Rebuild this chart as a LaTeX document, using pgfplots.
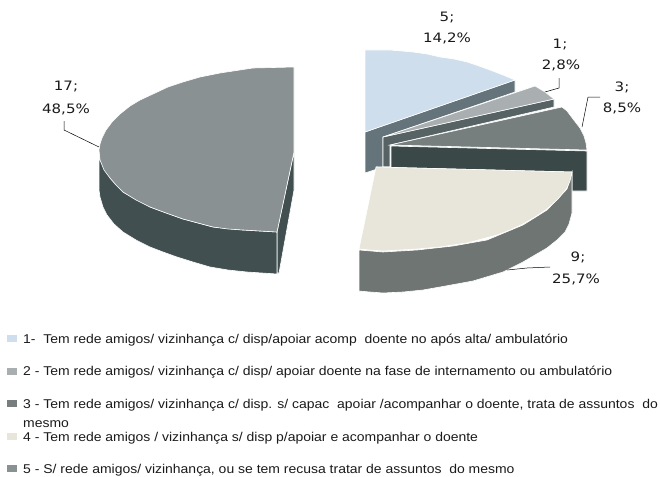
\documentclass[border=0pt]{standalone}
\usepackage{pgfplots}
\pgfplotsset{compat=1.18}
\usepackage{fontspec}
\setmainfont{Liberation Sans}
\newfontfamily\legfont[FakeStretch=1.095]{Liberation Sans}
\newfontfamily\labelfont[FakeStretch=1.16]{DejaVu Sans}
\definecolor{cA}{HTML}{CFDEEC}
\definecolor{cAs}{HTML}{64747A}
\definecolor{cB}{HTML}{A9AFB0}
\definecolor{cBs}{HTML}{566263}
\definecolor{cC}{HTML}{767E7E}
\definecolor{cCs}{HTML}{3B4848}
\definecolor{cD}{HTML}{E8E6DB}
\definecolor{cDs}{HTML}{6E7573}
\definecolor{cE}{HTML}{8A9193}
\definecolor{cEs}{HTML}{424F50}
\definecolor{txt}{HTML}{1A1A1A}
\newcommand{\dl}[3]{\node[font=\labelfont\fontsize{13}{15}\selectfont,text=txt,anchor=center,inner sep=0pt] at (axis cs:#1,#2) {#3};}
\newcommand{\lgt}[2]{\node[font=\legfont\fontsize{12.8}{15}\selectfont,text=txt,anchor=base west,inner sep=0pt] at (axis cs:23,#1) {#2};}
\begin{document}
\begin{tikzpicture}
\begin{axis}[scale only axis,width=660bp,height=476bp,xmin=0,xmax=660,ymin=0,ymax=476,y dir=reverse,axis lines=none,clip=false,
  every axis plot/.append style={line width=0.6pt}]
\addplot[draw=none] coordinates {(0,0)(660,0)(660,476)(0,476)};
% slice 5
\addplot[fill=cAs,draw=white] coordinates {(365,132)(515,80)(515,92)(383,137)(383,167)(365,173)} -- cycle;
\addplot[fill=cA,draw=white] coordinates {(365,50)(390,50)(413,52)(427,54)(440,57)(454,59)(467,62)(479,66)(490,70)(503,75)(515,80)(365,132)} -- cycle;
% slice 1
\addplot[fill=cBs,draw=white] coordinates {(383,137)(554,99)(554,107)(390,145)(390,167)(383,167)} -- cycle;
\addplot[fill=cB,draw=white] coordinates {(383,137)(535,86)(545,92)(554,99)} -- cycle;
% slice 3
\addplot[fill=cCs,draw=white] coordinates {(391,146)(587,151)(587,191)(572,191)(572,172)(376,167)(391,167)} -- cycle;
\addplot[fill=cC,draw=white] coordinates {(390,145)(562,107)(567,111)(573,119)(580,128)(584,136)(586,143)(587,150)} -- cycle;
% slice 4
\addplot[fill=cDs,draw=white] coordinates {(359,250)(383,252)(417,250)(453,246)(487,240)(523,225)(547,210)(567,189)(572,172)(572,213)(569,224)(565,232)(557,240)(547,248)(535,255)(523,262)(503,272)(473,281)(440,287)(423,290)(403,292)(383,293)(370,292)(359,291)} -- cycle;
\addplot[fill=cD,draw=white] coordinates {(376,167)(572,172)(570,181)(567,188)(558,199)(547,209)(535,217)(523,224)(510,230)(497,235)(482,239)(467,243)(453,245)(440,247)(417,249)(400,250)(383,251)(370,250)(359,249)} -- cycle;
% slice 2
\addplot[fill=cEs,draw=white] coordinates {(277,232)(294,152)(294,190)(279,273)(277,273)} -- cycle;
\addplot[fill=cEs,draw=white] coordinates {(99,150)(100,160)(110,178)(123,192)(150,207)(183,219)(213,227)(243,230)(277,232)(277,274)(247,272)(228,270)(210,267)(193,262)(177,257)(163,252)(150,247)(136,240)(123,232)(114,224)(107,215)(103,207)(100,197)(99,190)} -- cycle;
\addplot[fill=cE,draw=white] coordinates {(294,67)(253,68)(220,73)(200,77)(183,82)(168,87)(153,94)(140,100)(130,106)(120,114)(112,122)(106,130)(102,138)(100,144)(99,150)(100,160)(104,170)(110,178)(116,185)(123,192)(136,200)(150,207)(166,213)(183,219)(198,223)(213,227)(228,229)(243,230)(260,231)(277,232)(294,152)} -- cycle;
% leader lines
\addplot[black,line width=0.5pt] coordinates {(545,92)(559,88)(559,78)};
\addplot[black,line width=0.5pt] coordinates {(582,127)(588,97)(600,97)};
\addplot[black,line width=0.5pt] coordinates {(507,270)(527,268)(550,267)};
\addplot[black,line width=0.5pt] coordinates {(64,121)(64,130)(99,147)};
% data labels
\dl{447}{18}{5;}\dl{447}{38}{14,2\%}
\dl{560}{45}{1;}\dl{561}{65}{2,8\%}
\dl{622}{87}{3;}\dl{622}{108}{8,5\%}
\dl{578}{257}{9;}\dl{576}{279}{25,7\%}
\dl{66}{87}{17;}\dl{66}{109}{48,5\%}
% legend keys
\addplot[fill=cA,draw=none] coordinates {(7,335)(17,335)(17,342)(7,342)} -- cycle;
\addplot[fill=cB,draw=none] coordinates {(7,368)(17,368)(17,375)(7,375)} -- cycle;
\addplot[fill=cC,draw=none] coordinates {(7,400)(17,400)(17,407)(7,407)} -- cycle;
\addplot[fill=cD,draw=none] coordinates {(7,433)(17,433)(17,440)(7,440)} -- cycle;
\addplot[fill=cE,draw=none] coordinates {(7,465)(17,465)(17,472)(7,472)} -- cycle;
% legend text
\lgt{343}{1-\ \ Tem rede amigos/ vizinhança c/ disp/apoiar acomp\ \ doente no após alta/ ambulatório}
\lgt{375}{2 - Tem rede amigos/ vizinhança c/ disp/ apoiar doente na fase de internamento ou ambulatório}
\lgt{408}{3 - Tem rede amigos/ vizinhança c/ disp. s/ capac\ \ apoiar /acompanhar o doente, trata de assuntos\ \ do}
\lgt{427}{mesmo}
\lgt{441}{4 - Tem rede amigos / vizinhança s/ disp p/apoiar e acompanhar o doente}
\lgt{473}{5 - S/ rede amigos/ vizinhança, ou se tem recusa tratar de assuntos\ \ do mesmo}
\end{axis}
\end{tikzpicture}
\end{document}
